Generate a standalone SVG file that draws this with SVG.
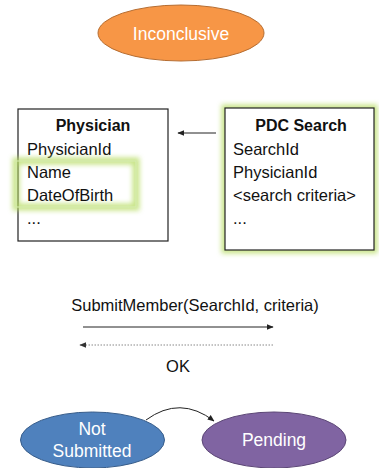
<svg xmlns="http://www.w3.org/2000/svg" width="379" height="468" viewBox="0 0 379 468">
<defs>
<style>
.t{font-family:"Liberation Sans",Arial,sans-serif;font-size:16.5px;fill:#111}
.b{font-weight:bold;font-size:16px}
.w{font-family:"Liberation Sans",Arial,sans-serif;font-size:17.5px;fill:#fff}
.box{fill:#fff;stroke:#222;stroke-width:1.2}
.glow{fill:none;stroke:#b5dc5e;stroke-width:7;opacity:0.75}
.ln{stroke:#222;stroke-width:1;fill:none}
</style>
<filter id="blur" x="-20%" y="-20%" width="140%" height="140%"><feGaussianBlur stdDeviation="2.5"/></filter>
<marker id="ah" viewBox="0 0 10 10" refX="9" refY="5" markerWidth="7" markerHeight="7" orient="auto" markerUnits="userSpaceOnUse"><path d="M0,1 L10,5 L0,9 z" fill="#222"/></marker>
<marker id="ahg" viewBox="0 0 10 10" refX="9" refY="5" markerWidth="7" markerHeight="7" orient="auto" markerUnits="userSpaceOnUse"><path d="M0,1 L10,5 L0,9 z" fill="#333"/></marker>
</defs>
<rect width="379" height="468" fill="#fff"/>
<g id="inconclusive">
<ellipse cx="181" cy="33" rx="83" ry="28" fill="#F79646" stroke="#B66D31" stroke-width="1"/>
<text class="w" x="181" y="40" text-anchor="middle" fill="#fdeee2">Inconclusive</text>
</g>
<g id="physician">
<rect class="box" x="18" y="109" width="150" height="132"/>
<text class="t b" x="93" y="131" text-anchor="middle">Physician</text>
<text class="t" x="27" y="155">PhysicianId</text>
<rect class="glow" x="16" y="161" width="120" height="46" filter="url(#blur)"/>
<rect x="16" y="161" width="120" height="46" fill="none" stroke="#d6ecb0" stroke-width="1"/>
<text class="t" x="27" y="178">Name</text>
<text class="t" x="27" y="201">DateOfBirth</text>
<text class="t" x="27" y="224">...</text>
</g>
<g id="pdcsearch">
<rect class="glow" x="225" y="108" width="149" height="142" filter="url(#blur)"/>
<rect class="box" x="225" y="108" width="149" height="142"/>
<text class="t b" x="301" y="131" text-anchor="middle">PDC Search</text>
<text class="t" x="233" y="155">SearchId</text>
<text class="t" x="233" y="178">PhysicianId</text>
<text class="t" x="233" y="201">&lt;search criteria&gt;</text>
<text class="t" x="233" y="224">...</text>
</g>
<g id="notsubmitted">
<ellipse cx="92.5" cy="440" rx="72" ry="28" fill="#4F81BD" stroke="#385D8A" stroke-width="1"/>
<text class="w" x="92" y="435" text-anchor="middle">Not</text>
<text class="w" x="92" y="457" text-anchor="middle">Submitted</text>
</g>
<g id="pending">
<ellipse cx="274" cy="440" rx="72" ry="28" fill="#8064A2" stroke="#5C4776" stroke-width="1"/>
<text class="w" x="274" y="446" text-anchor="middle" font-size="17px">Pending</text>
</g>
<g id="connectors">
<line class="ln" x1="216" y1="133" x2="178" y2="133" marker-end="url(#ah)"/>
<line class="ln" x1="83" y1="327" x2="273" y2="327" marker-end="url(#ah)"/>
<line x1="273" y1="345" x2="80" y2="345" stroke="#888" stroke-width="1" stroke-dasharray="1.5,1.5" marker-end="url(#ahg)"/>
<path class="ln" d="M146,420 Q180,395 214,421" stroke-width="1.2" marker-end="url(#ah)"/>
</g>
<g id="labels">
<text class="t" x="195" y="311" text-anchor="middle" font-size="18px">SubmitMember(SearchId, criteria)</text>
<text class="t" x="178" y="372" text-anchor="middle" font-size="18px">OK</text>
</g>
</svg>
